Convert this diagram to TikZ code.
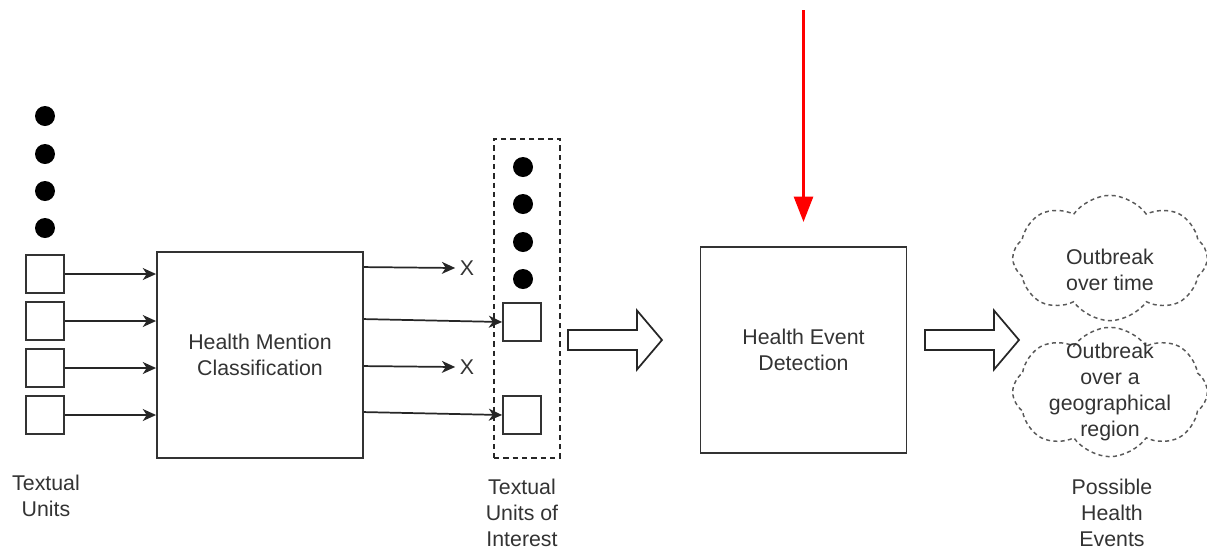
\documentclass[tikz,border=0pt]{standalone}
\usepackage{fontspec}
\setmainfont{Liberation Sans}
\usetikzlibrary{arrows.meta,positioning,shapes.symbols,calc}

\begin{document}
\begin{tikzpicture}[x=0.75pt,y=-0.75pt,
  every node/.style={font=\fontsize{16}{19.5}\selectfont, text=black!80},
  block/.style={draw=black!80, line width=1.4pt, align=center, minimum width=154.5pt, minimum height=154.5pt},
  tubox/.style={draw=black!80, line width=1.3pt, minimum size=28.5pt, inner sep=0pt},
  blob/.style={circle, fill=black, minimum size=15pt, inner sep=0pt},
  line/.style={-{Stealth[length=10pt,width=9pt,inset=3pt]}, line width=1.3pt, draw=black!85},
  redline/.style={-{Triangle[length=19pt,width=14pt]}, line width=2.6pt, draw=red},
  cloudy/.style={cloud, cloud puffs=8, cloud puff arc=110, cloud ignores aspect, draw=black!65,
    dash pattern=on 3pt off 2.5pt, line width=1.1pt, minimum width=146pt, minimum height=94pt, inner sep=0pt},
  fatarrow/.pic={\draw[line width=1.3pt, draw=black!85, line join=miter]
    (0,-10) -- (69,-10) -- (69,-29.5) -- (94,0) -- (69,29.5) -- (69,10) -- (0,10) -- cycle;}]
  \useasboundingbox (0,0) rectangle (1207,551);
  % textual units
  \node[blob] (d1) at (45,116) {};
  \node[blob] (d2) at (45,154) {};
  \node[blob] (d3) at (45,191) {};
  \node[blob] (d4) at (45,228) {};
  \node[tubox] (u1) at (45,274) {};
  \node[tubox] (u2) at (45,321) {};
  \node[tubox] (u3) at (45,368) {};
  \node[tubox] (u4) at (45,415) {};
  \node[align=center] (tul) at (46,496) {Textual\\Units};
  % classifier
  \node[block] (hmc) at (260,355) {Health Mention\\Classification};
  \draw[line] (u1.east) -- (u1.east -| hmc.west);
  \draw[line] (u2.east) -- (u2.east -| hmc.west);
  \draw[line] (u3.east) -- (u3.east -| hmc.west);
  \draw[line] (u4.east) -- (u4.east -| hmc.west);
  % units of interest
  \node (x1) at (467,268) {X};
  \node (x2) at (467,367) {X};
  \node[draw=black!85, dash pattern=on 4pt off 3pt, line width=1.2pt,
    minimum width=49.5pt, minimum height=239.25pt] (tbox) at (527,298.5) {};
  \node[blob] (e1) at (523,167) {};
  \node[blob] (e2) at (523,204) {};
  \node[blob] (e3) at (523,242) {};
  \node[blob] (e4) at (523,279) {};
  \node[tubox] (t1) at (522,322) {};
  \node[tubox] (t2) at (522,415) {};
  \draw[line] ($(hmc.north east)+(0,16)$) -- (x1.west);
  \draw[line] ($(hmc.north east)+(0,68)$) -- (t1.west);
  \draw[line] ($(hmc.north east)+(0,115)$) -- (x2.west);
  \draw[line] ($(hmc.north east)+(0,161)$) -- (t2.west);
  \node[align=center] (tuil) at (522,513) {Textual\\Units of\\Interest};
  % detection
  \pic at (568,340) {fatarrow};
  \node[block] (hed) at (803.5,350) {Health Event\\Detection};
  \coordinate (rtop) at (803.5,10);
  \draw[redline] (rtop) -- ($(hed.north)+(0,-24)$);
  % events
  \pic at (925,340) {fatarrow};
  \node[cloudy, label={[align=center, yshift=-9pt]center:Outbreak\\over time}] (c1) at (1110,258) {};
  \node[cloudy, minimum height=97pt, label={[align=center]center:Outbreak\\over a\\geographical\\region}] (c2) at (1110,392) {};
  \node[align=center] (phe) at (1112,513) {Possible\\Health\\Events};
\end{tikzpicture}
\end{document}
